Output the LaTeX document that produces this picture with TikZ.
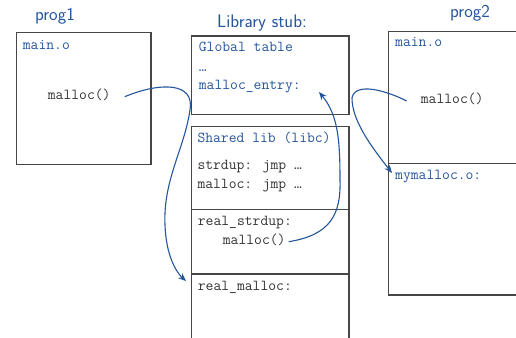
\documentclass[tikz,border=0pt]{standalone}
\usetikzlibrary{arrows.meta}
\definecolor{sblue}{RGB}{35,85,155}
\definecolor{bgray}{RGB}{70,70,70}
\begin{document}
\begin{tikzpicture}[x=1pt,y=-1pt,
  box/.style={draw=bgray,line width=1.2pt,inner sep=0,outer sep=0,anchor=north west},
  code/.style={font=\fontsize{15.2}{18}\selectfont\ttfamily,inner sep=0,anchor=west,text height=1.5ex,text depth=.3ex,text=black!80},
  bcode/.style={code,text=sblue},
  lbl/.style={font=\fontsize{18.2}{21}\selectfont\sffamily,text=sblue,inner sep=0},
  link/.style={draw=sblue,line width=1.1pt,-{Stealth[length=8pt,width=6.5pt]}}]
\useasboundingbox (0,0) rectangle (516,337);
\begin{scope}
\clip (0,0) rectangle (516,337);
% boxes
\node[box,minimum width=134.3pt,minimum height=131.6pt] (p1) at (16.7,32.7) {};
\node[box,minimum width=157.3pt,minimum height=78.3pt] (stub) at (191.7,36) {};
\node[box,minimum width=157.3pt,minimum height=82.8pt] (lib1) at (191.7,126.5) {};
\node[box,minimum width=157.3pt,minimum height=64.7pt] (lib2) at (191.7,209.3) {};
\node[box,minimum width=157.3pt,minimum height=80pt] (lib3) at (191.7,274) {};
\node[box,minimum width=141.3pt,minimum height=131.6pt] (p2a) at (388.7,31.7) {};
\node[box,minimum width=141.3pt,minimum height=131.7pt] (p2b) at (388.7,163.3) {};
% labels
\node[lbl] (l1) at (55,16) {prog1};
\node[lbl] (l2) at (262,23) {Library stub:};
\node[lbl] (l3) at (470,13) {prog2};
% texts
\node[bcode] (t11) at (22.7,46.7) {main.o};
\node[code] (m1) at (47.7,96.7) {malloc()};
\node[bcode] (s1) at (198.7,49.3) {Global table};
\node[bcode] (s2) at (198.7,69) {\ldots};
\node[bcode] (s3) at (198.7,87.3) {malloc\_entry:};
\node[bcode] (b1) at (197.3,140) {Shared lib (libc)};
\node[code] (b2) at (197.3,166.7) {strdup: jmp \ldots};
\node[code] (b3) at (197.3,186) {malloc: jmp \ldots};
\node[code] (c1) at (197.7,223.3) {real\_strdup:};
\node[code] (m2) at (222.7,241.7) {malloc()};
\node[code] (d1) at (197.7,288.3) {real\_malloc:};
\node[bcode] (q1) at (395,44.3) {main.o};
\node[code] (m3) at (420.7,101) {malloc()};
\node[bcode] (q2) at (395,176.7) {mymalloc.o:};
% arrow targets
\coordinate (t1) at (186,281);
\coordinate (t2) at (319,92);
\coordinate (t3) at (392,173);
% connectors
\draw[link] ([xshift=14pt]m1.east) .. controls (160,82) and (195,82) .. (190,110)
  .. controls (184,150) and (163,180) .. (165,225)
  .. controls (166,255) and (176,272) .. (t1);
\draw[link] ([xshift=3pt]m2.east) .. controls (330,235) and (341,215) .. (340,180)
  .. controls (340,140) and (338,115) .. (t2);
\draw[link] ([xshift=-14pt]m3.west) .. controls (385,90) and (355,82) .. (352,98)
  .. controls (352,120) and (370,145) .. (t3);
\end{scope}
\end{tikzpicture}
\end{document}
